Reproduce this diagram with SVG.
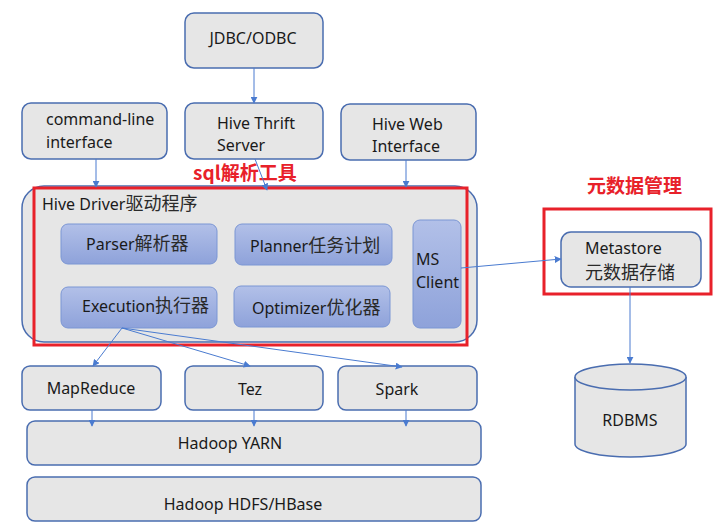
<svg xmlns="http://www.w3.org/2000/svg" width="713" height="528" viewBox="0 0 713 528">
<defs>
<linearGradient id="blueg" x1="0" y1="0" x2="0" y2="1">
<stop offset="0" stop-color="#b2c0e8"/>
<stop offset="1" stop-color="#8ea2da"/>
</linearGradient>
<marker id="arr" viewBox="0 0 10 10" refX="9" refY="5" markerWidth="7" markerHeight="7" orient="auto" markerUnits="userSpaceOnUse">
<path d="M0,0 L10,5 L0,10 z" fill="#4a7bd0"/>
</marker>
</defs>
<style>
.box{fill:#e6e6e6;stroke:#4a6db0;stroke-width:1.5}
.inner{fill:url(#blueg);stroke:#7b96d4;stroke-width:1}
.t{font-family:"Noto Sans","Open Sans","Noto Sans CJK SC",sans-serif;font-size:16px;fill:#1a1a1a}
.cj{font-family:"Noto Sans CJK SC",sans-serif;font-size:18px;fill:#2a2a2a}
.c{text-anchor:middle}
.red{fill:none;stroke:#e8212a;stroke-width:3}
.rt{font-family:"Noto Sans CJK SC","Noto Sans",sans-serif;font-size:19px;font-weight:bold;fill:#e8212a}
.ln{fill:none;stroke:#4a7bd0;stroke-width:1;marker-end:url(#arr)}
</style>
<rect width="713" height="528" fill="#ffffff"/>

<g id="jdbc"><rect class="box" x="185" y="13" width="138" height="55" rx="9"/><text class="t c" x="253" y="44">JDBC/ODBC</text></g>
<g id="cli"><rect class="box" x="22" y="103" width="145" height="56" rx="9"/><text class="t" x="46" y="125">command-line</text><text class="t" x="46" y="148">interface</text></g>
<g id="thrift"><rect class="box" x="185" y="103" width="138" height="56" rx="9"/><text class="t" x="217" y="129">Hive Thrift</text><text class="t" x="217" y="151">Server</text></g>
<g id="web"><rect class="box" x="341" y="104" width="135" height="56" rx="9"/><text class="t" x="372" y="130">Hive Web</text><text class="t" x="372" y="152">Interface</text></g>

<g id="driver">
<rect class="box" x="22" y="186" width="455" height="156" rx="22"/>
<text class="t" x="42" y="210">Hive Driver<tspan class="cj">驱动程序</tspan></text>
</g>
<g id="parser"><rect class="inner" x="61" y="224" width="156" height="40" rx="7"/><text class="t" x="86" y="250">Parser<tspan class="cj">解析器</tspan></text></g>
<g id="planner"><rect class="inner" x="235" y="224" width="157" height="41" rx="7"/><text class="t" x="250" y="252">Planner<tspan class="cj">任务计划</tspan></text></g>
<g id="msclient"><rect class="inner" x="413" y="220" width="48" height="108" rx="7"/><text class="t" x="416" y="265">MS</text><text class="t" x="416" y="288">Client</text></g>
<g id="execution"><rect class="inner" x="61" y="287" width="156" height="41" rx="7"/><text class="t" x="82" y="312">Execution<tspan class="cj">执行器</tspan></text></g>
<g id="optimizer"><rect class="inner" x="234" y="286" width="156" height="41" rx="7"/><text class="t" x="252" y="314">Optimizer<tspan class="cj">优化器</tspan></text></g>

<g id="sqltool"><rect class="red" x="34" y="188" width="433" height="157"/><text class="rt" x="193" y="180">sql解析工具</text></g>

<g id="metastore">
<rect class="box" x="561" y="232" width="140" height="55" rx="10"/>
<text class="t" x="585" y="254">Metastore</text><text class="cj" x="585" y="279">元数据存储</text>
</g>
<g id="metamgmt"><rect class="red" x="544" y="209" width="167" height="85"/><text class="rt" x="587" y="193">元数据管理</text></g>

<g id="rdbms">
<path class="box" d="M575,377 L575,444 A55.5,13 0 0 0 686,444 L686,377"/>
<ellipse class="box" cx="630.5" cy="377" rx="55.5" ry="13"/>
<text class="t c" x="630" y="426">RDBMS</text>
</g>

<g id="mapreduce"><rect class="box" x="22" y="366" width="139" height="44" rx="8"/><text class="t c" x="91" y="394">MapReduce</text></g>
<g id="tez"><rect class="box" x="185" y="366" width="138" height="44" rx="8"/><text class="t c" x="250" y="395">Tez</text></g>
<g id="spark"><rect class="box" x="338" y="366" width="139" height="44" rx="8"/><text class="t c" x="397" y="395">Spark</text></g>
<g id="yarn"><rect class="box" x="27" y="421" width="454" height="44" rx="8"/><text class="t c" x="230" y="449">Hadoop YARN</text></g>
<g id="hdfs"><rect class="box" x="27" y="477" width="454" height="44" rx="8"/><text class="t c" x="243" y="510">Hadoop HDFS/HBase</text></g>

<g id="connectors">
<line class="ln" x1="254" y1="68" x2="254" y2="103"/>
<line class="ln" x1="96" y1="159" x2="96" y2="187"/>
<line class="ln" x1="255" y1="159" x2="267" y2="190"/>
<line class="ln" x1="406" y1="160" x2="406" y2="187"/>
<line class="ln" x1="461" y1="268" x2="561" y2="259"/>
<line class="ln" x1="630" y1="287" x2="630" y2="363"/>
<line class="ln" x1="122" y1="328" x2="93" y2="366"/>
<line class="ln" x1="122" y1="328" x2="250" y2="366"/>
<line class="ln" x1="122" y1="328" x2="402" y2="367"/>
<line class="ln" x1="92" y1="410" x2="92" y2="426"/>
<line class="ln" x1="254" y1="410" x2="254" y2="426"/>
<line class="ln" x1="406" y1="410" x2="406" y2="426"/>
</g>
</svg>
